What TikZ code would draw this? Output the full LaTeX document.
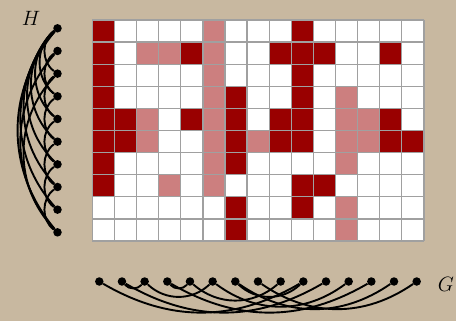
\documentclass[tikz,border=0pt]{standalone}
\usepackage{tikz}
\definecolor{bgtan}{RGB}{200,184,160}
\definecolor{darkcell}{RGB}{153,0,0}
\definecolor{lightcell}{RGB}{204,127,127}
\definecolor{gridgray}{RGB}{160,160,160}
\tikzset{
  dot/.style={circle,fill=black,draw=none,inner sep=0pt,minimum size=8.5pt},
  edge/.style={draw=black,line width=1.9pt},
  gridline/.style={draw=gridgray,line width=1.3pt},
  lbl/.style={font=\fontsize{20}{24}\selectfont,inner sep=0pt}
}
\begin{document}
\begin{tikzpicture}[x=1pt,y=-1pt]
\fill[bgtan] (0,0) rectangle (456,321);
\useasboundingbox (0,0) rectangle (456,321);
% matrix cells
\def\cw{22.11}
\def\ch{22.1}
\foreach \row [count=\r from 0] in {
 {2,0,0,0,0,1,0,0,0,2,0,0,0,0,0},
 {2,0,1,1,2,1,0,0,2,2,2,0,0,2,0},
 {2,0,0,0,0,1,0,0,0,2,0,0,0,0,0},
 {2,0,0,0,0,1,2,0,0,2,0,1,0,0,0},
 {2,2,1,0,2,1,2,0,2,2,0,1,1,2,0},
 {2,2,1,0,0,1,2,1,2,2,0,1,1,2,2},
 {2,0,0,0,0,1,2,0,0,0,0,1,0,0,0},
 {2,0,0,1,0,1,0,0,0,2,2,0,0,0,0},
 {0,0,0,0,0,0,2,0,0,2,0,1,0,0,0},
 {0,0,0,0,0,0,2,0,0,0,0,1,0,0,0}} {
  \foreach \v [count=\c from 0] in \row {
    \ifcase\v\relax \def\cc{white}\or\def\cc{lightcell}\or\def\cc{darkcell}\fi
    \fill[\cc] ({92.3+\c*\cw},{20+\r*\ch}) rectangle ++(\cw,\ch);
  }
}
\foreach \c in {0,...,15} \draw[gridline] ({92.3+\c*\cw},20) -- ({92.3+\c*\cw},241);
\foreach \r in {0,...,10} \draw[gridline] (92.3,{20+\r*\ch}) -- (424,{20+\r*\ch});
% graph H
\foreach \j in {0,...,9} \node[dot] (h\j) at (57.5,{28.3+22.67*\j}) {};
\node[lbl] (Hl) at (31,18) {$H$};
\foreach \a/\b in {0/2,0/3,0/4,0/5,0/6,0/7,0/8,0/9,1/9,2/9,1/3,2/4,3/5,4/6,5/7,6/8,7/9} {
  \pgfmathsetmacro\bd{58-2*(\b-\a)}
  \draw[edge] (h\a) to[bend right=\bd] (h\b);
}
% graph G
\foreach \i in {0,...,14} \node[dot] (g\i) at ({99.3+22.67*\i},281.5) {};
\node[lbl] (Gl) at (446,284) {$G$};
\foreach \a/\b in {0/9,1/2,1/10,2/5,3/4,3/12,4/8,5/11,6/13,7/14,6/9} {
  \pgfmathsetmacro\bd{50-2.2*(\b-\a)}
  \draw[edge] (g\a) to[bend right=\bd] (g\b);
}
\end{tikzpicture}
\end{document}
